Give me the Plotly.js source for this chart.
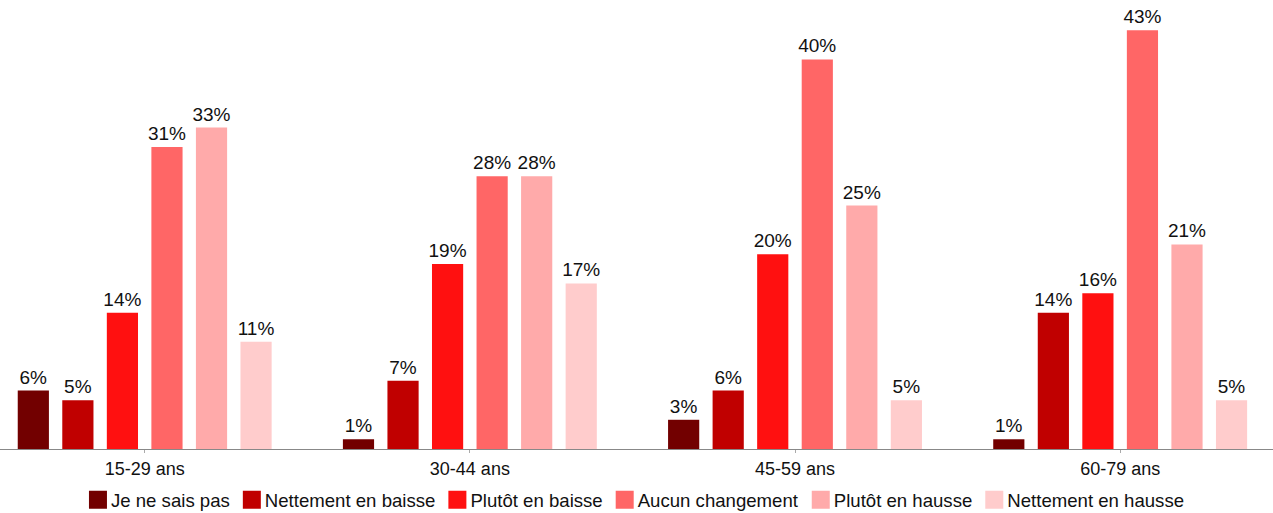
<!DOCTYPE html>
<html><head><meta charset="utf-8">
<script src="https://cdn.plot.ly/plotly-3.0.1.min.js"></script>
<style>html,body{margin:0;padding:0;background:#fff;}#chart{width:1273px;height:513px;}</style>
</head><body><div id="chart"></div>
<script>
const categories = ["15-29 ans", "30-44 ans", "45-59 ans", "60-79 ans"];
const seriesNames = ["Je ne sais pas", "Nettement en baisse", "Plutôt en baisse", "Aucun changement", "Plutôt en hausse", "Nettement en hausse"];
const jeNeSaisPas = [6, 1, 3, 1];
const nettementEnBaisse = [5, 7, 6, 14];
const plutotEnBaisse = [14, 19, 20, 16];
const aucunChangement = [31, 28, 40, 43];
const plutotEnHausse = [33, 28, 25, 21];
const nettementEnHausse = [11, 17, 5, 5];
const seriesValues = [jeNeSaisPas, nettementEnBaisse, plutotEnBaisse, aucunChangement, plutotEnHausse, nettementEnHausse];
const colors = ["#720000", "#c00000", "#ff1010", "#ff6666", "#ffaaaa", "#ffcccc"];

const FONT = "Liberation Sans, Arial, sans-serif";
const traces = seriesNames.map((name, i) => ({
  type: "bar",
  name: name,
  x: categories,
  y: seriesValues[i],
  marker: {color: colors[i]},
  text: seriesValues[i].map(v => v + "%"),
  textposition: "outside",
  constraintext: "none",
  cliponaxis: false,
  textfont: {family: FONT, size: 19, color: "#111"},
  hoverinfo: "skip"
}));

const layout = {
  width: 1273, height: 513,
  margin: {l: 0, r: 0, t: 0, b: 64},
  paper_bgcolor: "#fff", plot_bgcolor: "#fff",
  barmode: "group",
  bargap: 0.178,
  bargroupgap: 0.3,
  font: {family: FONT, size: 18, color: "#111"},
  xaxis: {
    range: [-0.445, 3.47],
    automargin: false,
    showline: true, linecolor: "#888", linewidth: 1,
    ticks: "outside", ticklen: 3, tickcolor: "#aaa",
    tickfont: {size: 18, color: "#111"},
    showgrid: false, zeroline: false, fixedrange: true
  },
  yaxis: {
    range: [0, 46.1],
    visible: false, showgrid: false, zeroline: false, fixedrange: true
  },
  legend: {
    orientation: "h", x: 0.5, xanchor: "center",
    yref: "container", y: 0.025, yanchor: "middle",
    font: {size: 18.6, color: "#111"},
    itemwidth: 30, traceorder: "normal"
  },
  showlegend: true
};

function tightenLegend(gd) {
  const items = Array.from(gd.querySelectorAll(".legend .traces"));
  if (!items.length) return;
  const SYM = 18, GAP = 4, SEP = 13;
  const info = items.map(g => {
    const path = g.querySelector(".legendpoints path");
    const text = g.querySelector("text.legendtext");
    if (path) path.setAttribute("d", "M9,9H-9V-9H9Z");
    const tr = (g.getAttribute("transform") || "").match(/translate\(([-\d.e]+)[ ,]+([-\d.e]+)\)/);
    const tx = tr ? parseFloat(tr[1]) : 0, ty = tr ? parseFloat(tr[2]) : 0;
    const pr = path.getBoundingClientRect();
    const tRect = text.getBoundingClientRect();
    const tX = parseFloat(text.getAttribute("x") || "0");
    const originLeft = tRect.left - tX;
    const localSym = pr.left - originLeft;
    text.setAttribute("x", localSym + SYM + GAP);
    return {g, tx, ty, symLeft: pr.left, tw: tRect.width};
  });
  const total = info.reduce((s, d) => s + SYM + GAP + d.tw + SEP, 0) - SEP;
  let cur = (gd.getBoundingClientRect().left) + (1273 - total) / 2;
  info.forEach(d => {
    const shift = cur - d.symLeft;
    d.g.setAttribute("transform", "translate(" + (d.tx + shift) + "," + d.ty + ")");
    cur += SYM + GAP + d.tw + SEP;
  });
}

Plotly.newPlot("chart", traces, layout, {displayModeBar: false, staticPlot: true}).then(tightenLegend);
</script>
</body></html>
